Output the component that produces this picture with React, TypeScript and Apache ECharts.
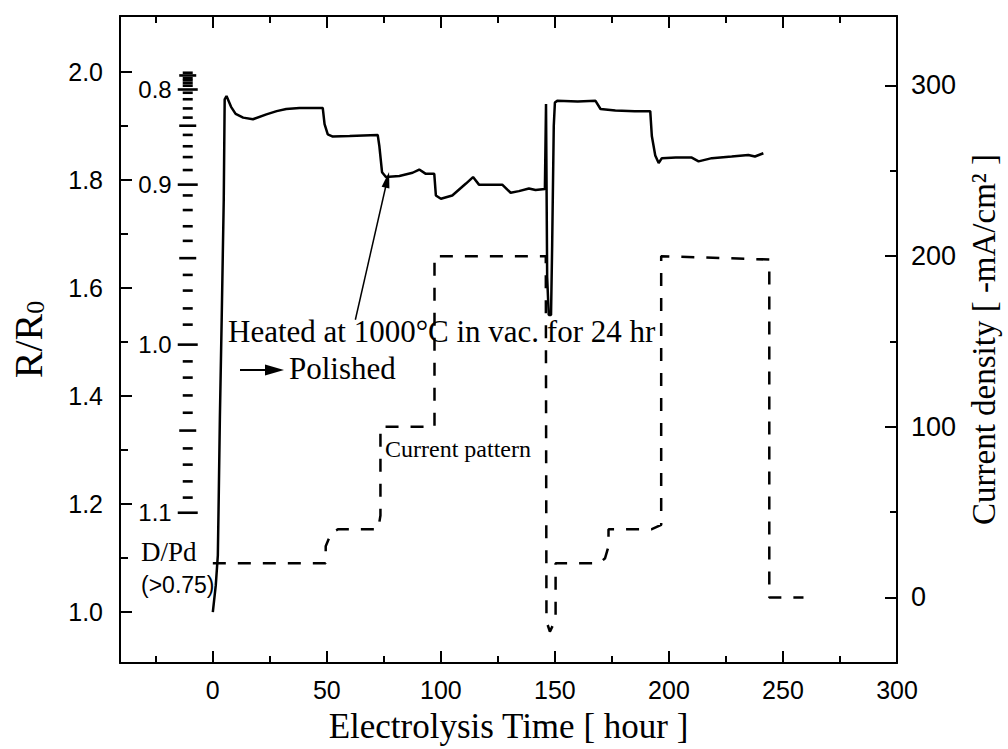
import React, { useEffect, useRef } from "react";
import * as echarts from "echarts";

// R/R0 curve (solid)
const hours = [0, 1.3, 2.2, 2.6, 3.1, 3.9, 4.8, 5.2, 6.0, 8, 10, 13.3, 17.6, 23.5, 28, 32.2, 38, 43, 48.2, 49, 50.4, 52.6, 60, 66, 72.3, 73, 74.2, 75.9, 81.8, 87.6, 90.5, 93.4, 97.1, 97.8, 100, 105, 111, 114.1, 116.7, 121.1, 126.9, 130.6, 134.2, 138.6, 141.5, 145.6, 146.1, 146.6, 147.3, 148.3, 148.8, 149.5, 150, 151, 160, 167.8, 170, 176.5, 185, 191.8, 192.5, 194, 195.5, 196.9, 203, 210, 213, 218.8, 227.5, 234.8, 237.7, 241.4];
const ratio = [1.0, 1.05, 1.105, 1.215, 1.361, 1.545, 1.765, 1.949, 1.955, 1.935, 1.922, 1.915, 1.912, 1.921, 1.927, 1.931, 1.933, 1.933, 1.933, 1.903, 1.884, 1.88, 1.881, 1.882, 1.883, 1.863, 1.814, 1.805, 1.807, 1.813, 1.819, 1.811, 1.811, 1.771, 1.765, 1.771, 1.793, 1.805, 1.791, 1.791, 1.791, 1.776, 1.779, 1.784, 1.781, 1.783, 1.94, 1.62, 1.55, 1.55, 1.68, 1.9, 1.943, 1.946, 1.945, 1.946, 1.931, 1.928, 1.927, 1.927, 1.881, 1.845, 1.831, 1.84, 1.841, 1.841, 1.834, 1.84, 1.843, 1.846, 1.843, 1.849];

// Current pattern (dashed), mA/cm2
const curHours = [0, 49.5, 49.5, 52, 55, 72.5, 73.5, 73.5, 97.2, 97.2, 146, 146.3, 147.8, 150.3, 150.3, 169.5, 172, 173.5, 173.5, 192.5, 196.6, 196.6, 244, 244, 259];
const curDensity = [20, 20, 30, 38, 40, 40, 48, 100, 100, 200, 200, -14, -20, -13, 20, 20, 23, 30, 40, 40, 42.5, 200, 198, 0, 0];

// D/Pd inner scale: D/Pd value and its position on the R/R0 axis
const dpdValues = [0.74, 0.75, 0.76, 0.77, 0.78, 0.79, 0.8, 0.81, 0.82, 0.83, 0.84, 0.85, 0.86, 0.87, 0.88, 0.89, 0.9, 0.91, 0.92, 0.93, 0.94, 0.95, 0.96, 0.97, 0.98, 0.99, 1.0, 1.01, 1.02, 1.03, 1.04, 1.05, 1.06, 1.07, 1.08, 1.09, 1.1];
const dpdRatio = [1.998, 1.993, 1.988, 1.984, 1.979, 1.974, 1.967, 1.961, 1.949, 1.932, 1.915, 1.9, 1.883, 1.862, 1.842, 1.818, 1.791, 1.771, 1.744, 1.714, 1.687, 1.655, 1.624, 1.595, 1.562, 1.532, 1.495, 1.464, 1.434, 1.401, 1.369, 1.336, 1.303, 1.273, 1.242, 1.212, 1.184];
const dpdScaleHour = -11; // where the D/Pd scale sits on the time axis

// axis ticks
const xTicks = [0, 50, 100, 150, 200, 250, 300];
const xMinor = [-25, 25, 75, 125, 175, 225, 275];
const yTicks = [1.0, 1.2, 1.4, 1.6, 1.8, 2.0];
const yMinor = [1.1, 1.3, 1.5, 1.7, 1.9];
const cTicks = [0, 100, 200, 300];
const cMinor = [50, 150, 250];

// annotation arrow (hours, R/R0)
const annotStart = [62.5, 1.541];
const annotEnd = [76.5, 1.8];

const SANS = "'Liberation Sans', Arial, sans-serif";
const SERIF = "'Liberation Serif', 'Times New Roman', serif";
const BLACK = "#000";

export default function App() {
  const ref = useRef<HTMLDivElement>(null);
  useEffect(() => {
    document.body.style.margin = "0";
    const chart = echarts.init(ref.current!, null, { renderer: "svg" });
    const tickLine = { color: BLACK, width: 2 };
    const xBase = { type: "value", min: -40.7, max: 300, splitLine: { show: false } };
    const yLeft = { type: "value", min: 0.906, max: 2.103, splitLine: { show: false } };
    const yRight = { type: "value", min: -38.4, max: 340.7, splitLine: { show: false } };
    const option: any = {
      animation: false,
      backgroundColor: "#fff",
      grid: { left: 120, right: 108, top: 16, bottom: 81, containLabel: false },
      xAxis: [
        {
          ...xBase,
          position: "bottom",
          axisLine: { show: true, onZero: false, lineStyle: { color: BLACK, width: 2 } },
          axisTick: { show: true, inside: true, length: 12, customValues: xTicks, lineStyle: tickLine },
          axisLabel: { show: true, customValues: xTicks, margin: 14, color: BLACK, fontSize: 25, fontFamily: SANS, formatter: (v: number) => String(v) },
          name: "Electrolysis Time [ hour ]",
          nameLocation: "middle",
          nameGap: 46,
          nameTextStyle: { fontFamily: SERIF, fontSize: 35, lineHeight: 35, color: BLACK },
        },
        {
          ...xBase,
          position: "bottom",
          axisLine: { show: false, onZero: false },
          axisTick: { show: true, inside: true, length: 7, customValues: xMinor, lineStyle: tickLine },
          axisLabel: { show: false },
        },
        {
          ...xBase,
          position: "top",
          axisLine: { show: true, onZero: false, lineStyle: { color: BLACK, width: 2 } },
          axisTick: { show: true, inside: true, length: 12, customValues: xTicks, lineStyle: tickLine },
          axisLabel: { show: false },
        },
        {
          ...xBase,
          position: "top",
          axisLine: { show: false, onZero: false },
          axisTick: { show: true, inside: true, length: 7, customValues: xMinor, lineStyle: tickLine },
          axisLabel: { show: false },
        },
      ],
      yAxis: [
        {
          ...yLeft,
          position: "left",
          axisLine: { show: true, onZero: false, lineStyle: { color: BLACK, width: 2 } },
          axisTick: { show: true, inside: true, length: 12, customValues: yTicks, lineStyle: tickLine },
          axisLabel: { show: true, customValues: yTicks, margin: 17, color: BLACK, fontSize: 25, fontFamily: SANS, formatter: (v: number) => v.toFixed(1) },
          name: "R/R{sub|0}",
          nameLocation: "middle",
          nameRotate: 90,
          nameGap: 72,
          nameTextStyle: {
            fontFamily: SERIF, fontSize: 40, lineHeight: 40, color: BLACK,
            rich: { sub: { fontFamily: SERIF, fontSize: 26, lineHeight: 14, verticalAlign: "bottom", color: BLACK } },
          },
        },
        {
          ...yRight,
          position: "right",
          axisLine: { show: true, onZero: false, lineStyle: { color: BLACK, width: 2 } },
          axisTick: { show: true, inside: true, length: 12, customValues: cTicks, lineStyle: tickLine },
          axisLabel: { show: true, customValues: cTicks, margin: 14, color: BLACK, fontSize: 27, fontFamily: SANS, formatter: (v: number) => String(v) },
          name: "Current density [ -mA/cm² ]",
          nameLocation: "middle",
          nameRotate: 90,
          nameGap: 70,
          nameTextStyle: { fontFamily: SERIF, fontSize: 33, lineHeight: 33, color: BLACK },
        },
        {
          ...yLeft,
          position: "left",
          axisLine: { show: false, onZero: false },
          axisTick: { show: true, inside: true, length: 8, customValues: yMinor, lineStyle: tickLine },
          axisLabel: { show: false },
        },
        {
          ...yRight,
          position: "right",
          axisLine: { show: false, onZero: false },
          axisTick: { show: true, inside: true, length: 7, customValues: cMinor, lineStyle: tickLine },
          axisLabel: { show: false },
        },
      ],
      series: [
        {
          type: "line",
          name: "Current pattern",
          xAxisIndex: 0,
          yAxisIndex: 1,
          data: curHours.map((h, i) => [h, curDensity[i]]),
          showSymbol: false,
          lineStyle: { color: BLACK, width: 2.5, type: [13, 12] },
          z: 2,
        },
        {
          type: "line",
          name: "R/R0",
          xAxisIndex: 0,
          yAxisIndex: 0,
          data: hours.map((h, i) => [h, ratio[i]]),
          showSymbol: false,
          lineStyle: { color: BLACK, width: 2.5 },
          z: 3,
          markLine: {
            silent: true,
            symbol: ["none", "triangle"],
            symbolSize: [8, 16],
            label: { show: false },
            lineStyle: { color: BLACK, width: 1.5, type: "solid" },
            itemStyle: { color: BLACK },
            data: [[{ coord: annotStart }, { coord: annotEnd }]],
          },
        },
        {
          type: "custom",
          name: "D/Pd",
          xAxisIndex: 0,
          yAxisIndex: 0,
          encode: { x: 0, y: 1 },
          data: dpdValues.map((d, i) => [d, dpdRatio[i]]),
          renderItem: (params: any, api: any) => {
            const d = api.value(0);
            const r = api.value(1);
            const p = api.coord([dpdScaleHour, r]);
            const hund = Math.round(d * 100);
            const major = hund % 10 === 0;
            const mid = !major && hund % 5 === 0;
            const len = major ? 20 : mid ? 17 : 10;
            const children: any[] = [
              {
                type: "line",
                shape: { x1: p[0] - len / 2, y1: p[1], x2: p[0] + len / 2, y2: p[1] },
                style: { stroke: BLACK, lineWidth: 2.6 },
              },
            ];
            if (major) {
              children.push({
                type: "text",
                x: p[0] - len / 2 - 6,
                y: p[1],
                style: { text: d.toFixed(1), font: `24px ${SANS}`, fill: BLACK, align: "right", verticalAlign: "middle" },
              });
            }
            return { type: "group", children };
          },
          z: 3,
        },
      ],
      graphic: [
        {
          type: "text", x: 228, y: 331,
          style: { text: "Heated at 1000°C in vac. for 24 hr", font: `31px ${SERIF}`, fill: BLACK, align: "left", verticalAlign: "middle" },
        },
        {
          type: "text", x: 289, y: 368,
          style: { text: "Polished", font: `31px ${SERIF}`, fill: BLACK, align: "left", verticalAlign: "middle" },
        },
        { type: "line", shape: { x1: 240, y1: 370, x2: 268, y2: 370 }, style: { stroke: BLACK, lineWidth: 2 } },
        { type: "polygon", shape: { points: [[265, 364.5], [284, 370], [265, 375.5]] }, style: { fill: BLACK } },
        {
          type: "text", x: 385, y: 449,
          style: { text: "Current pattern", font: `24px ${SERIF}`, fill: BLACK, align: "left", verticalAlign: "middle" },
        },
        {
          type: "text", x: 141, y: 552,
          style: { text: "D/Pd", font: `27px ${SERIF}`, fill: BLACK, align: "left", verticalAlign: "middle" },
        },
        {
          type: "text", x: 141, y: 585,
          style: { text: "(>0.75)", font: `23px ${SANS}`, fill: BLACK, align: "left", verticalAlign: "middle" },
        },
      ],
    };
    chart.setOption(option);
    return () => chart.dispose();
  }, []);
  return <div ref={ref} style={{ width: 1008, height: 749 }} />;
}
